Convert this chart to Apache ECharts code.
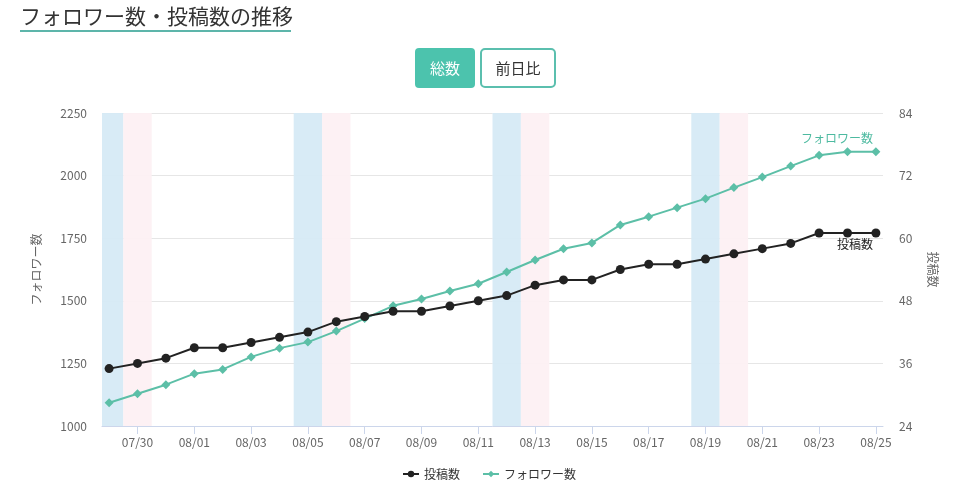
<!DOCTYPE html>
<html>
<head>
<meta charset="utf-8">
<script src="https://cdn.jsdelivr.net/npm/echarts@6/dist/echarts.min.js"></script>
<style>
html,body{margin:0;padding:0;background:#fff;}
#c{width:978px;height:503px;}
</style>
</head>
<body>
<div id="c"></div>
<script>
const dates = ['07/29','07/30','07/31','08/01','08/02','08/03','08/04','08/05','08/06','08/07','08/08','08/09','08/10','08/11','08/12','08/13','08/14','08/15','08/16','08/17','08/18','08/19','08/20','08/21','08/22','08/23','08/24','08/25'];
const followers = [1093,1129,1165,1209,1226,1276,1311,1335,1379,1429,1480,1507,1539,1568,1615,1663,1708,1731,1803,1836,1872,1908,1952,1994,2038,2081,2095,2095];
const posts = [35,36,37,39,39,40,41,42,44,45,46,46,47,48,49,51,52,52,54,55,55,56,57,58,59,61,61,61];
const saturdays = ['07/29','08/05','08/12','08/19'];
const sundays = ['07/30','08/06','08/13','08/20'];
const xLabelDates = ['07/30','08/01','08/03','08/05','08/07','08/09','08/11','08/13','08/15','08/17','08/19','08/21','08/23','08/25'];

const FONT = '"Noto Sans CJK JP", "Noto Sans", sans-serif';
const TEAL = '#5cbfa7';
const DARK = '#222222';
const xMin = -0.25, xMax = dates.length - 1 + 0.25;

function bands(list, color) {
  return list.map(d => {
    const i = dates.indexOf(d);
    return [{xAxis: Math.max(xMin, i - 0.5), itemStyle: {color: color}}, {xAxis: Math.min(xMax, i + 0.5)}];
  });
}

function seriesData(values, labelPos, labelColor, labelText) {
  return values.map((v, i) => {
    const item = {value: [i, v]};
    if (i === values.length - 1) {
      item.label = {
        show: true, position: labelPos, align: 'right', distance: labelPos === 'top' ? 3 : 1,
        offset: [-3, 0], color: labelColor, fontSize: 12, fontFamily: FONT,
        formatter: labelText
      };
    }
    return item;
  });
}

const chart = echarts.init(document.getElementById('c'));
chart.setOption({
  animation: false,
  textStyle: {fontFamily: FONT},
  graphic: [
    {type: 'text', left: 20, top: 6, style: {text: 'フォロワー数・投稿数の推移', fontSize: 21, fill: '#333', fontFamily: FONT}},
    {type: 'rect', shape: {x: 20, y: 30, width: 271, height: 2}, style: {fill: '#5db5aa'}},
    {type: 'rect', shape: {x: 415, y: 48, width: 60, height: 40, r: 4}, style: {fill: '#4cc3ad'}},
    {type: 'text', x: 445, y: 68, style: {text: '総数', fontSize: 15, fill: '#fff', fontFamily: FONT, align: 'center', verticalAlign: 'middle'}},
    {type: 'rect', shape: {x: 481, y: 49, width: 74, height: 38, r: 4}, style: {fill: '#fff', stroke: '#5bbfae', lineWidth: 2}},
    {type: 'text', x: 518, y: 68, style: {text: '前日比', fontSize: 15, fill: '#333', fontFamily: FONT, align: 'center', verticalAlign: 'middle'}}
  ],
  legend: {
    bottom: 18, left: 'center', itemGap: 22, itemWidth: 16, itemHeight: 8,
    textStyle: {color: '#333', fontSize: 12, fontFamily: FONT},
    data: ['投稿数', 'フォロワー数']
  },
  grid: {left: 102, right: 95, top: 113, bottom: 77},
  xAxis: {
    type: 'value', min: xMin, max: xMax,
    axisLine: {lineStyle: {color: '#ccd6eb'}},
    axisTick: {show: true, length: 8, lineStyle: {color: '#ccd6eb'}, customValues: xLabelDates.map(d => dates.indexOf(d))},
    axisLabel: {color: '#666', fontSize: 12, margin: 10, customValues: xLabelDates.map(d => dates.indexOf(d)),
      formatter: v => dates[Math.round(v)] || ''},
    splitLine: {show: false}
  },
  yAxis: [
    {
      type: 'value', min: 1000, max: 2250, interval: 250, position: 'left',
      name: 'フォロワー数', nameLocation: 'middle', nameGap: 60, nameRotate: 90,
      nameTextStyle: {color: '#666', fontSize: 12},
      axisLine: {show: false}, axisTick: {show: false},
      axisLabel: {color: '#666', fontSize: 12, margin: 15, formatter: v => String(v)},
      splitLine: {lineStyle: {color: '#e6e6e6'}}
    },
    {
      type: 'value', min: 24, max: 84, interval: 12, position: 'right',
      name: '投稿数', nameLocation: 'middle', nameGap: 44, nameRotate: -90,
      nameTextStyle: {color: '#666', fontSize: 12},
      axisLine: {show: false}, axisTick: {show: false},
      axisLabel: {color: '#666', fontSize: 12, margin: 16, formatter: v => String(v)},
      splitLine: {show: false}
    }
  ],
  series: [
    {
      name: '投稿数', type: 'line', yAxisIndex: 1,
      data: seriesData(posts, 'bottom', DARK, '投稿数'),
      symbol: 'circle', symbolSize: 9,
      lineStyle: {color: DARK, width: 2}, itemStyle: {color: DARK},
      z: 3,
      markArea: {silent: true, data: bands(saturdays, 'rgba(214,234,245,0.95)').concat(bands(sundays, 'rgba(253,240,243,0.95)'))}
    },
    {
      name: 'フォロワー数', type: 'line', yAxisIndex: 0,
      data: seriesData(followers, 'top', '#4dbaa0', 'フォロワー数'),
      symbol: 'diamond', symbolSize: 9,
      lineStyle: {color: TEAL, width: 2}, itemStyle: {color: TEAL},
      z: 2
    }
  ]
});
</script>
</body>
</html>
